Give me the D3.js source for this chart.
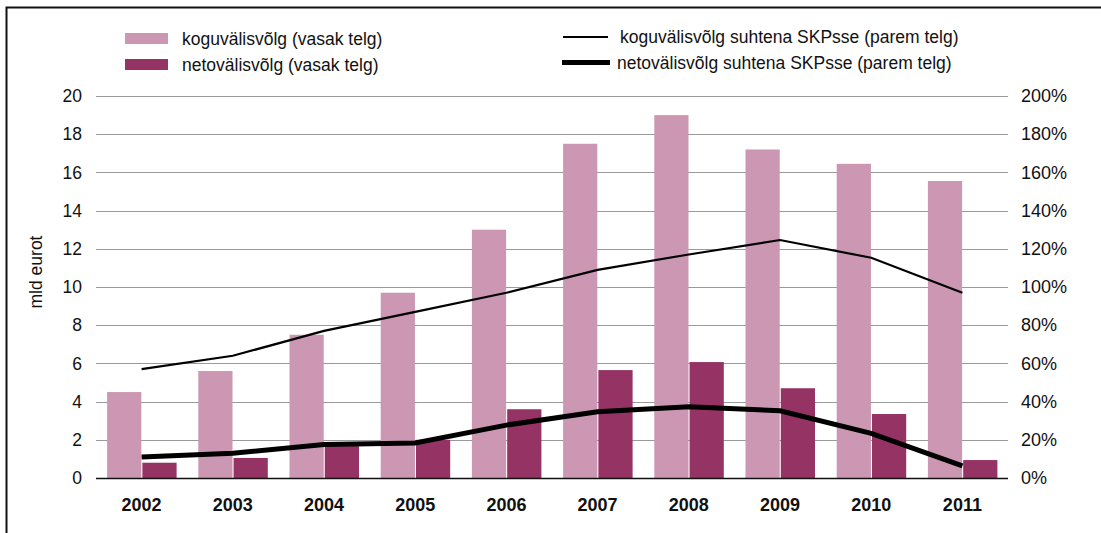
<!DOCTYPE html>
<html>
<head>
<meta charset="utf-8">
<script src="https://cdn.jsdelivr.net/npm/d3@7"></script>
<style>
  html, body { margin: 0; padding: 0; background: #fff; }
  svg { display: block; font-family: "Liberation Sans", Arial, Helvetica, sans-serif; }
</style>
</head>
<body>
<svg id="chart" width="1101" height="533"></svg>
<script>
const years = ["2002","2003","2004","2005","2006","2007","2008","2009","2010","2011"];
const koguValisvolg = [4.5, 5.6, 7.5, 9.7, 13.0, 17.5, 19.0, 17.2, 16.45, 15.55];
const netoValisvolg = [0.8, 1.05, 1.87, 2.0, 3.6, 5.65, 6.07, 4.7, 3.35, 0.94];
const koguSuhtenaSKP = [57, 64, 77, 87, 97, 109, 117, 124.6, 115.3, 97];
const netoSuhtenaSKP = [11, 13, 17.5, 18.3, 27.7, 34.7, 37.3, 35.2, 23.4, 6.3];
const leftTicks = [0, 2, 4, 6, 8, 10, 12, 14, 16, 18, 20];
const rightTicks = [0, 20, 40, 60, 80, 100, 120, 140, 160, 180, 200];
const seriesNames = [
  "koguvälisvõlg (vasak telg)",
  "netovälisvõlg (vasak telg)",
  "koguvälisvõlg suhtena SKPsse (parem telg)",
  "netovälisvõlg suhtena SKPsse (parem telg)"
];
const yAxisTitle = "mld eurot";

(function () {
const colLight = "#cb97b3";
const colDark = "#963365";

const svg = d3.select("#chart");
const pLeft = 96, pRight = 1008, pTop = 96, pBottom = 478;

// frame
svg.append("path").attr("d", `M6.5,540 V7.5 H1101`).attr("fill", "none").attr("stroke", "#111").attr("stroke-width", 2);

const x = d3.scaleBand().domain(years).range([pLeft, pRight]).padding(0);
const bw = x.bandwidth();
const x1 = d3.scaleBand().domain(["kogu","neto"]).range([bw/2 - 34.5, bw/2 + 35]).paddingInner(0.03);
const yL = d3.scaleLinear().domain([0, 20]).range([pBottom, pTop]);
const yR = d3.scaleLinear().domain([0, 200]).range([pBottom, pTop]);

// gridlines
svg.append("g").selectAll("line").data(leftTicks.filter(d => d > 0)).join("line")
  .attr("x1", pLeft).attr("x2", pRight)
  .attr("y1", d => Math.round(yL(d)) + 0.5).attr("y2", d => Math.round(yL(d)) + 0.5)
  .attr("stroke", "#9a9a9a").attr("stroke-width", 1.2);

// left axis
const axL = svg.append("g").attr("transform", `translate(${pLeft},0)`)
  .call(d3.axisLeft(yL).tickValues(leftTicks).tickSize(0).tickPadding(14));
axL.select(".domain").remove();
axL.selectAll("text").attr("font-size", 17.5).attr("fill", "#111").attr("font-family", "Liberation Sans, Arial, sans-serif");

// right axis
const axR = svg.append("g").attr("transform", `translate(${pRight},0)`)
  .call(d3.axisRight(yR).tickValues(rightTicks).tickSize(0).tickPadding(13).tickFormat(d => d + "%"));
axR.select(".domain").remove();
axR.selectAll("text").attr("font-size", 18).attr("fill", "#111").attr("font-family", "Liberation Sans, Arial, sans-serif");

// y axis title
svg.append("text").attr("transform", `translate(42,272) rotate(-90)`)
  .attr("text-anchor", "middle").attr("font-size", 17.5).attr("fill", "#111").text(yAxisTitle);

// bars
const barData = years.map((yr, i) => ({yr, kogu: koguValisvolg[i], neto: netoValisvolg[i]}));
const groups = svg.append("g").selectAll("g").data(barData).join("g")
  .attr("transform", d => `translate(${x(d.yr)},0)`);
groups.append("rect").attr("x", x1("kogu")).attr("width", x1.bandwidth())
  .attr("y", d => yL(d.kogu)).attr("height", d => yL(0) - yL(d.kogu)).attr("fill", colLight);
groups.append("rect").attr("x", x1("neto")).attr("width", x1.bandwidth())
  .attr("y", d => yL(d.neto)).attr("height", d => yL(0) - yL(d.neto)).attr("fill", colDark);

// baseline
svg.append("line").attr("x1", pLeft).attr("x2", pRight).attr("y1", pBottom + 0.5).attr("y2", pBottom + 0.5)
  .attr("stroke", "#111").attr("stroke-width", 1.5);

// x axis
const axX = svg.append("g").attr("transform", `translate(0,${pBottom})`)
  .call(d3.axisBottom(x).tickSize(0).tickPadding(20));
axX.select(".domain").remove();
axX.selectAll("text").attr("font-size", 18).attr("font-weight", "bold").attr("fill", "#111").attr("font-family", "Liberation Sans, Arial, sans-serif");

// lines
const line = d3.line().x(d => x(d[0]) + bw/2).y(d => yR(d[1]));
svg.append("path").datum(years.map((y, i) => [y, koguSuhtenaSKP[i]]))
  .attr("d", line).attr("fill", "none").attr("stroke", "#000").attr("stroke-width", 2.2);
svg.append("path").datum(years.map((y, i) => [y, netoSuhtenaSKP[i]]))
  .attr("d", line).attr("fill", "none").attr("stroke", "#000").attr("stroke-width", 5);

// legend
const lg = svg.append("g");
lg.append("rect").attr("x", 125).attr("y", 33).attr("width", 43).attr("height", 11).attr("fill", colLight);
lg.append("rect").attr("x", 125).attr("y", 59).attr("width", 43).attr("height", 11).attr("fill", colDark);
lg.append("text").attr("x", 182).attr("y", 45).attr("font-size", 17.5).attr("fill", "#111").text(seriesNames[0]);
lg.append("text").attr("x", 182).attr("y", 71).attr("font-size", 17.5).attr("fill", "#111").text(seriesNames[1]);
lg.append("line").attr("x1", 563).attr("x2", 608).attr("y1", 37).attr("y2", 37).attr("stroke", "#000").attr("stroke-width", 2);
lg.append("line").attr("x1", 562).attr("x2", 610).attr("y1", 62.5).attr("y2", 62.5).attr("stroke", "#000").attr("stroke-width", 5);
lg.append("text").attr("x", 620).attr("y", 43).attr("font-size", 17.5).attr("fill", "#111").text(seriesNames[2]);
lg.append("text").attr("x", 617).attr("y", 69).attr("font-size", 17.5).attr("fill", "#111").text(seriesNames[3]);
})();
</script>
</body>
</html>
